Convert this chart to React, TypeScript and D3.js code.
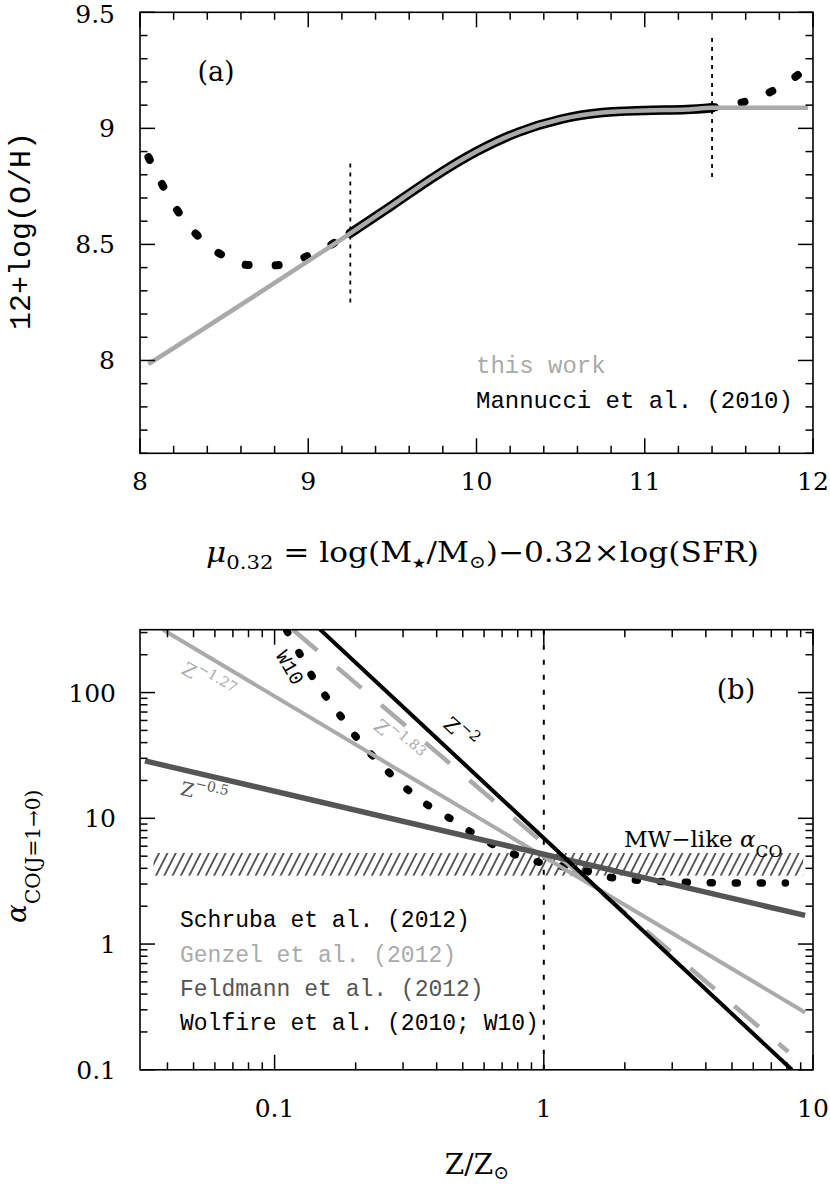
import React from 'react';
import * as d3 from 'd3';

// ---------- Panel (a) data ----------
const muTickValues = [8, 9, 10, 11, 12];
const ohTickValues = [8, 8.5, 9, 9.5];
const ohTickLabels = ['8', '8.5', '9', '9.5'];

const thisWorkMu = [8.05, 9.25, 9.5, 9.75, 10, 10.25, 10.5, 10.75, 11, 11.25, 11.4, 11.97];
const thisWorkOH = [7.984, 8.548, 8.669, 8.792, 8.9, 8.984, 9.039, 9.068, 9.077, 9.081, 9.089, 9.089];

const mannucciSolidMu = [9.25, 9.5, 9.75, 10, 10.25, 10.5, 10.75, 11, 11.25, 11.4];
const mannucciSolidOH = [8.548, 8.669, 8.792, 8.9, 8.984, 9.039, 9.068, 9.077, 9.081, 9.089];

const mannucciLowMu = [8.05, 8.2, 8.35, 8.5, 8.65, 8.8, 8.95, 9.1, 9.25];
const mannucciLowOH = [8.876, 8.671, 8.532, 8.449, 8.411, 8.41, 8.437, 8.485, 8.548];

const mannucciHighMu = [11.4, 11.6, 11.8, 11.97];
const mannucciHighOH = [9.089, 9.116, 9.177, 9.262];

const rangeMarkerMu = [9.25, 11.4];
const rangeMarkerLow = [8.25, 8.79];
const rangeMarkerHigh = [8.85, 9.4];

// ---------- Panel (b) data ----------
const zTickValues = [0.1, 1, 10];
const zTickLabels = ['0.1', '1', '10'];
const alphaTickValues = [0.1, 1, 10, 100];
const alphaTickLabels = ['0.1', '1', '10', '100'];

const schrubaZ = [0.147, 8.35];
const schrubaAlpha = [320, 0.1];
const genzel127Z = [0.0385, 9.35];
const genzel127Alpha = [316, 0.286];
const genzel183Z = [0.117, 8.09];
const genzel183Alpha = [316, 0.139];
const feldmannZ = [0.033, 9.35];
const feldmannAlpha = [28.6, 1.69];

const w10Z = [0.111, 0.124, 0.137, 0.154, 0.175, 0.199, 0.264, 0.31, 0.367, 0.444, 0.53, 0.76, 0.94, 1.42, 1.76, 2.15, 3.35, 4.14, 5.13, 6.35, 7.9];
const w10Alpha = [310, 203, 138, 95, 66, 45.5, 23.5, 17.1, 12.9, 10.1, 7.9, 5.27, 4.53, 3.84, 3.4, 3.24, 3.1, 3.08, 3.06, 3.06, 3.06];

const mwBandAlpha = [3.5, 5.3];
const mwBandZ = [0.0355, 9.2];
const solarZ = 1;

const legendA = [
  { label: 'this work', color: '#aaaaaa' },
  { label: 'Mannucci et al. (2010)', color: '#000000' },
];
const legendB = [
  { label: 'Schruba et al. (2012)', color: '#000000' },
  { label: 'Genzel et al. (2012)', color: '#aaaaaa' },
  { label: 'Feldmann et al. (2012)', color: '#555555' },
  { label: 'Wolfire et al. (2010; W10)', color: '#000000' },
];

const LIGHT = '#aaaaaa';
const DARK = '#555555';
const SERIF = '"DejaVu Serif", serif';
const MONO = '"Liberation Mono", monospace';

const zip = (xs: number[], ys: number[]) => xs.map((x, i) => [x, ys[i]] as [number, number]);

export default function App() {
  // Panel (a) scales
  const L = 140, R = 813;
  const xA = d3.scaleLinear().domain([8, 12]).range([L, R]);
  const yA = d3.scaleLinear().domain([7.6, 9.5]).range([453.3, 12.3]);
  // Panel (b) scales
  const xB = d3.scaleLog().domain([Math.pow(10, -1.5), 10]).range([L, R]);
  const yB = d3.scaleLog().domain([0.1, Math.pow(10, 2.5)]).range([1069.8, 629.7]);

  const lineA = d3.line<[number, number]>().x(d => xA(d[0])).y(d => yA(d[1])).curve(d3.curveMonotoneX);
  const lineB = d3.line<[number, number]>().x(d => xB(d[0])).y(d => yB(d[1])).curve(d3.curveMonotoneX);
  const lineBStraight = d3.line<[number, number]>().x(d => xB(d[0])).y(d => yB(d[1]));

  const MAJ = 15, MIN = 7.5;

  const aTop = yA.range()[1], aBot = yA.range()[0];
  const muMinor = d3.range(8, 12.0001, 0.2);
  const ohMinor = d3.range(7.6, 9.5001, 0.1);

  const bTop = yB.range()[1], bBot = yB.range()[0];
  const logMinor = (lo: number, hi: number) => {
    const out: number[] = [];
    for (let d = -3; d <= 3; d++) for (let k = 1; k <= 9; k++) {
      const v = k * Math.pow(10, d);
      if (v >= lo * 0.999 && v <= hi * 1.001) out.push(v);
    }
    return out;
  };
  const zMinor = logMinor(xB.domain()[0], xB.domain()[1]);
  const aMinor = logMinor(yB.domain()[0], yB.domain()[1]);
  const isMajor = (v: number) => Math.abs(Math.log10(v) - Math.round(Math.log10(v))) < 1e-6;

  const tickX = (xs: number[], sx: (v: number) => number, top: number, bot: number, lenFn: (v: number) => number, key: string) =>
    xs.map((v, i) => (
      <g key={key + i}>
        <line x1={sx(v)} x2={sx(v)} y1={bot} y2={bot - lenFn(v)} stroke="#000" strokeWidth={1.5} />
        <line x1={sx(v)} x2={sx(v)} y1={top} y2={top + lenFn(v)} stroke="#000" strokeWidth={1.5} />
      </g>
    ));
  const tickY = (ys: number[], sy: (v: number) => number, lenFn: (v: number) => number, key: string) =>
    ys.map((v, i) => (
      <g key={key + i}>
        <line x1={L} x2={L + lenFn(v)} y1={sy(v)} y2={sy(v)} stroke="#000" strokeWidth={1.5} />
        <line x1={R} x2={R - lenFn(v)} y1={sy(v)} y2={sy(v)} stroke="#000" strokeWidth={1.5} />
      </g>
    ));

  const near = (v: number, arr: number[]) => arr.some(a => Math.abs(a - v) < 1e-6);

  return (
    <svg width={830} height={1186} style={{ position: 'absolute', left: 0, top: 0, background: '#fff' }}>
      <defs>
        <clipPath id="clipA"><rect x={L} y={aTop} width={R - L} height={aBot - aTop} /></clipPath>
        <clipPath id="clipB"><rect x={L} y={bTop} width={R - L} height={bBot - bTop} /></clipPath>
        <pattern id="hatch" patternUnits="userSpaceOnUse" width={7.4} height={10} patternTransform="rotate(27)">
          <line x1={3.7} x2={3.7} y1={-1} y2={11} stroke="#000" strokeWidth={1.25} />
        </pattern>
      </defs>
      <rect x={0} y={0} width={830} height={1186} fill="#fff" />

      {/* ================= Panel (a) ================= */}
      <g clipPath="url(#clipA)">
        {rangeMarkerMu.map((m, i) => (
          <line key={'rm' + i} x1={xA(m)} x2={xA(m)} y1={yA(rangeMarkerLow[i])} y2={yA(rangeMarkerHigh[i])}
            stroke="#000" strokeWidth={1.8} strokeDasharray="4 5" />
        ))}
        <path d={lineA(zip(mannucciLowMu, mannucciLowOH)) || ''} fill="none" stroke="#000" strokeWidth={8}
          strokeLinecap="round" strokeDasharray="3 27" />
        <path d={lineA(zip(mannucciHighMu, mannucciHighOH)) || ''} fill="none" stroke="#000" strokeWidth={8}
          strokeLinecap="round" strokeDasharray="3 27" />
        <path d={lineA(zip(mannucciSolidMu, mannucciSolidOH)) || ''} fill="none" stroke="#000" strokeWidth={9.5}
          strokeLinecap="round" />
        <path d={lineA(zip(thisWorkMu, thisWorkOH)) || ''} fill="none" stroke={LIGHT} strokeWidth={4.5} />
      </g>
      <rect x={L} y={aTop} width={R - L} height={aBot - aTop} fill="none" stroke="#000" strokeWidth={1.6} />
      {tickX(muMinor, xA, aTop, aBot, v => (near(v, muTickValues) ? MAJ : MIN), 'ax')}
      {tickY(ohMinor, yA, v => (near(v, ohTickValues) ? MAJ : MIN), 'ay')}
      {muTickValues.map((v, i) => (
        <text key={'mul' + i} x={xA(v)} y={490} textAnchor="middle" fontFamily={SERIF} fontSize={25}>{String(v)}</text>
      ))}
      {ohTickValues.map((v, i) => (
        <text key={'ohl' + i} x={115} y={yA(v) + 9 + (v === 9.5 ? 2 : 0)} textAnchor="end" fontFamily={SERIF} fontSize={25}>{ohTickLabels[i]}</text>
      ))}
      <text x={216} y={81} textAnchor="middle" fontFamily={SERIF} fontSize={27}>(a)</text>
      {legendA.map((d, i) => (
        <text key={'la' + i} x={476} y={366.7 + i * 35} dominantBaseline="central" fontFamily={MONO} fontSize={24} fill={d.color}>{d.label}</text>
      ))}
      <text transform="translate(22,231) rotate(-90)" textAnchor="middle" dominantBaseline="central" fontFamily={MONO} fontSize={30}>12+log(O/H)</text>
      <text x={206} y={562} fontFamily={SERIF} fontSize={28} textLength={553} lengthAdjust="spacingAndGlyphs">
        <tspan fontStyle="italic">μ</tspan>
        <tspan fontSize={19} dy={7}>0.32</tspan>
        <tspan dy={-7}>{' = log(M'}</tspan>
        <tspan fontSize={14} dy={6}>★</tspan>
        <tspan dy={-6}>/M</tspan>
        <tspan fontSize={18} dy={6}>⊙</tspan>
        <tspan dy={-6}>)−0.32×log(SFR)</tspan>
      </text>

      {/* ================= Panel (b) ================= */}
      <g clipPath="url(#clipB)">
        <line x1={xB(solarZ)} x2={xB(solarZ)} y1={bTop} y2={bBot} stroke="#000" strokeWidth={2} strokeDasharray="5 10" />
        <rect x={xB(mwBandZ[0])} y={yB(mwBandAlpha[1])} width={xB(mwBandZ[1]) - xB(mwBandZ[0])}
          height={yB(mwBandAlpha[0]) - yB(mwBandAlpha[1])} fill="url(#hatch)" />
        <path d={lineB(zip(w10Z, w10Alpha)) || ''} fill="none" stroke="#000" strokeWidth={7.5}
          strokeLinecap="round" strokeDasharray="2 23" />
        <path d={lineBStraight(zip(genzel127Z, genzel127Alpha)) || ''} fill="none" stroke={LIGHT} strokeWidth={4} />
        <path d={lineBStraight(zip(genzel183Z, genzel183Alpha)) || ''} fill="none" stroke={LIGHT} strokeWidth={4.5}
          strokeDasharray="32 26" />
        <path d={lineBStraight(zip(feldmannZ, feldmannAlpha)) || ''} fill="none" stroke={DARK} strokeWidth={5.5} />
        <path d={lineBStraight(zip(schrubaZ, schrubaAlpha)) || ''} fill="none" stroke="#000" strokeWidth={4} />
      </g>
      <rect x={L} y={bTop} width={R - L} height={bBot - bTop} fill="none" stroke="#000" strokeWidth={1.6} />
      {tickX(zMinor, xB, bTop, bBot, v => (isMajor(v) ? MAJ : MIN), 'bx')}
      {tickY(aMinor, yB, v => (isMajor(v) ? MAJ : MIN), 'by')}
      {zTickValues.map((v, i) => (
        <text key={'zl' + i} x={xB(v)} y={1117} textAnchor="middle" fontFamily={SERIF} fontSize={25}>{zTickLabels[i]}</text>
      ))}
      {alphaTickValues.map((v, i) => (
        <text key={'al' + i} x={116} y={yB(v) + 9} textAnchor="end" fontFamily={SERIF} fontSize={25}>{alphaTickLabels[i]}</text>
      ))}
      <text x={736} y={699} textAnchor="middle" fontFamily={SERIF} fontSize={27}>(b)</text>

      {/* line labels */}
      <text transform="translate(208,681) rotate(30.7)" textAnchor="middle" dominantBaseline="central" fontFamily={SERIF} fontSize={19} fill={LIGHT}>
        Z<tspan fontSize={14} dy={-8}>−1.27</tspan>
      </text>
      <text transform="translate(398,741) rotate(40.5)" textAnchor="middle" dominantBaseline="central" fontFamily={SERIF} fontSize={19} fill={LIGHT}>
        Z<tspan fontSize={14} dy={-8}>−1.83</tspan>
      </text>
      <text transform="translate(460,733) rotate(43)" textAnchor="middle" dominantBaseline="central" fontFamily={SERIF} fontSize={20} fill="#000">
        Z<tspan fontSize={15} dy={-8}>−2</tspan>
      </text>
      <text transform="translate(204,793) rotate(13.1)" textAnchor="middle" dominantBaseline="central" fontFamily={SERIF} fontSize={19} fill={DARK}>
        Z<tspan fontSize={14} dy={-8}>−0.5</tspan>
      </text>
      <text transform="translate(289,668) rotate(60)" textAnchor="middle" dominantBaseline="central" fontFamily={MONO} fontSize={20} fill="#000">W10</text>
      <text x={624} y={847} fontFamily={SERIF} fontSize={23}>
        MW−like <tspan fontStyle="italic">α</tspan><tspan fontSize={17} dy={10}>CO</tspan>
      </text>

      {legendB.map((d, i) => (
        <text key={'lb' + i} x={180} y={921.4 + i * 34.2} dominantBaseline="central" fontFamily={MONO} fontSize={23} fill={d.color}>{d.label}</text>
      ))}

      <text transform="translate(26,923) rotate(-90)" fontFamily={SERIF} fontSize={28}>
        <tspan fontStyle="italic">α</tspan><tspan fontSize={20} dy={14}>CO(J=1→0)</tspan>
      </text>
      <text x={477} y={1174} textAnchor="middle" fontFamily={SERIF} fontSize={28}>
        Z/Z<tspan fontSize={19} dy={5}>⊙</tspan>
      </text>
    </svg>
  );
}
